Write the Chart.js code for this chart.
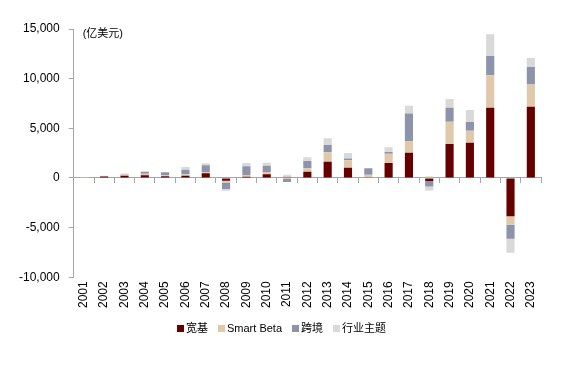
<!DOCTYPE html>
<html><head><meta charset="utf-8">
<script src="https://cdn.jsdelivr.net/npm/chart.js@4/dist/chart.umd.min.js"></script>
<style>
html,body{margin:0;padding:0;background:#fff}
#wrap{position:relative;width:563px;height:367px}
#legend{position:absolute;left:0;width:563px;top:321px;text-align:center;font:11px 'Liberation Sans',Arial,'Noto Sans CJK SC',sans-serif;color:#000;white-space:nowrap;padding-left:0;box-sizing:border-box}
#legend span.item{display:inline-block;margin:0 5px;line-height:14px}
#legend span.box{display:inline-block;width:7px;height:7px;margin-right:2px;vertical-align:0px}
</style>
</head><body><div id="wrap"><canvas id="c" width="563" height="367"></canvas><div id="legend"></div></div>
<script>
const years = ['2001','2002','2003','2004','2005','2006','2007','2008','2009','2010','2011','2012','2013','2014','2015','2016','2017','2018','2019','2020','2021','2022','2023'];
const broad = [50,150,230,270,170,230,470,-280,130,370,20,630,1640,1040,30,1510,2550,-300,3420,3550,7080,-3860,7180];
const smartBeta = [50,30,100,160,100,140,130,-180,170,230,200,340,940,740,300,940,1180,150,2250,1210,3260,-840,2290];
const crossBorder = [0,20,30,170,300,470,680,-640,870,640,-400,740,740,170,650,170,2750,-570,1410,880,1950,-1410,1710];
const industry = [0,20,100,100,30,270,200,-190,340,300,100,370,670,570,0,470,800,-400,870,1210,2180,-1410,900];
const yTicks = [-10000,-5000,0,5000,10000,15000];
const unitLabel = '(亿美元)';

const FONT = "'Liberation Sans', Arial, 'Noto Sans CJK SC', sans-serif";
const axisColor = '#a6a6a6';

const unitPlugin = {
  id: 'unit',
  afterDraw(chart) {
    const ctx = chart.ctx, a = chart.chartArea;
    ctx.save();
    ctx.font = '11px ' + FONT;
    ctx.fillStyle = '#000';
    ctx.textBaseline = 'middle';
    ctx.textAlign = 'left';
    ctx.fillText(unitLabel, a.left + 9, a.top + 5);
    ctx.restore();
  }
};

const mk = (label, data, color) => ({label, data, backgroundColor: color, borderWidth: 0, xAxisID: 'x', categoryPercentage: 1, barPercentage: 0.4});

const chart = new Chart(document.getElementById('c'), {
  type: 'bar',
  data: {
    labels: years,
    datasets: [
      mk('宽基', broad, '#660000'),
      mk('Smart Beta', smartBeta, '#e0c8aa'),
      mk('跨境', crossBorder, '#8c93aa'),
      mk('行业主题', industry, '#d9d9d9')
    ]
  },
  options: {
    responsive: false,
    animation: false,
    layout: {padding: {left: 10, right: 22, top: 29, bottom: 55}},
    plugins: {
      legend: {display: false},
      tooltip: {enabled: false}
    },
    scales: {
      x: {
        type: 'category',
        stacked: true,
        position: {y: 0},
        offset: true,
        border: {display: true, color: axisColor, width: 1},
        grid: {display: true, offset: true, drawOnChartArea: false, drawTicks: true, tickLength: 5, color: axisColor},
        ticks: {display: false}
      },
      x2: {
        type: 'category',
        position: 'bottom',
        offset: true,
        border: {display: false},
        grid: {display: false, drawTicks: false},
        ticks: {color: '#000', font: {family: FONT, size: 12}, minRotation: 90, maxRotation: 90, padding: 4, autoSkip: false}
      },
      y: {
        stacked: true,
        min: -10000,
        max: 15000,
        afterBuildTicks(scale) { scale.ticks = yTicks.map(v => ({value: v})); },
        border: {display: true, color: axisColor, width: 1},
        grid: {display: true, drawOnChartArea: false, drawTicks: true, tickLength: 5, color: axisColor},
        ticks: {color: '#000', font: {family: FONT, size: 12}, padding: 9,
          callback: v => v.toLocaleString('en-US')}
      }
    }
  },
  plugins: [unitPlugin]
});

const lg = document.getElementById('legend');
chart.data.datasets.forEach(ds => {
  const item = document.createElement('span');
  item.className = 'item';
  const box = document.createElement('span');
  box.className = 'box';
  box.style.background = ds.backgroundColor;
  item.appendChild(box);
  item.appendChild(document.createTextNode(ds.label));
  lg.appendChild(item);
});
</script>
</body></html>
